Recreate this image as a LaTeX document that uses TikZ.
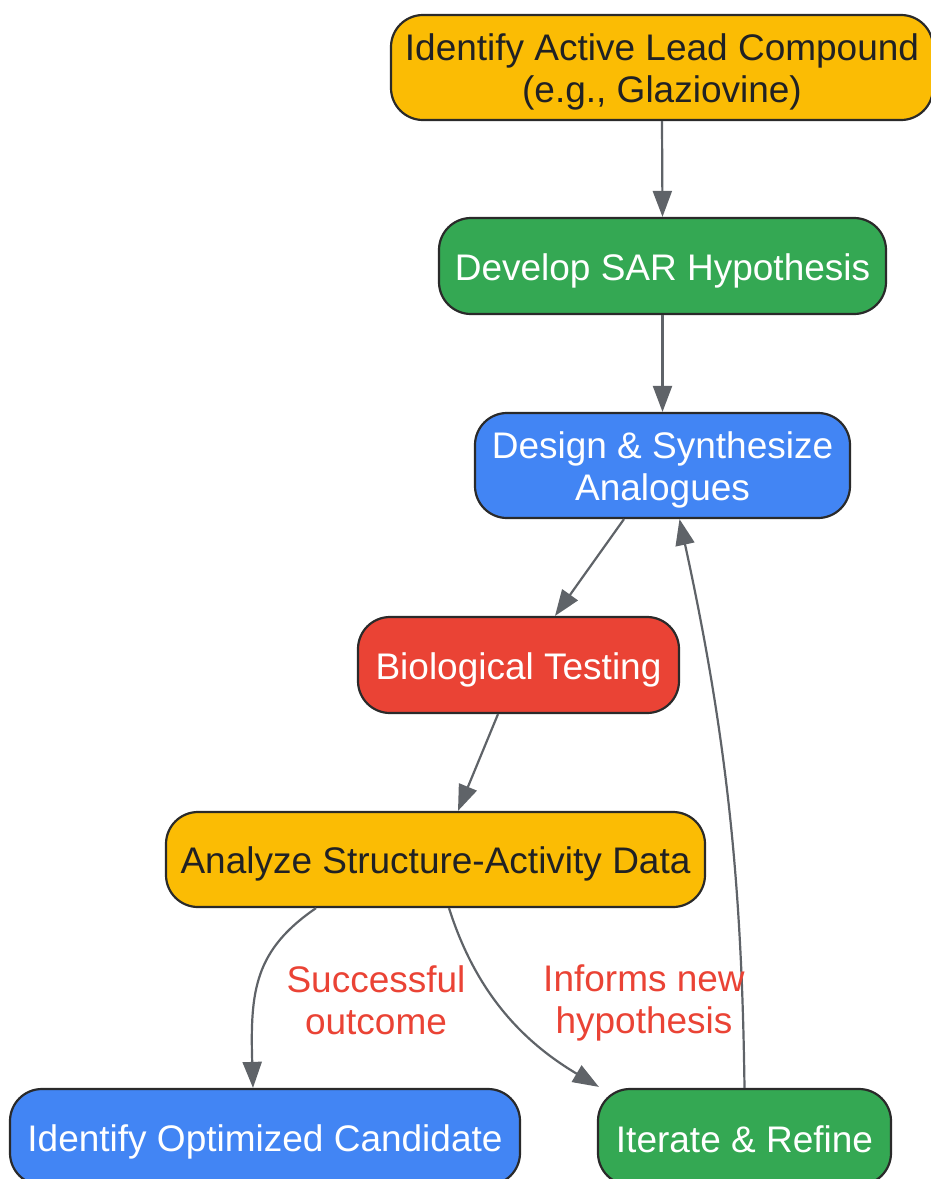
\documentclass[tikz,border=0pt]{standalone}
\usepackage{fontspec}
\setmainfont{Liberation Sans}
\usetikzlibrary{arrows.meta}
\definecolor{gyellow}{HTML}{FBBC04}
\definecolor{ggreen}{HTML}{34A853}
\definecolor{gblue}{HTML}{4285F4}
\definecolor{gred}{HTML}{EA4335}
\definecolor{dtext}{HTML}{202124}
\definecolor{edgec}{HTML}{5F6368}
\definecolor{borderc}{HTML}{2A2A2A}
\newcommand\tstrut[1][36pt]{\rule{0pt}{#1}}
\tikzset{
  box/.style={draw=borderc, line width=2.2pt, rounded corners=32pt, inner sep=0pt,
    align=center, font=\fontsize{37}{42}\selectfont},
  ybox/.style={box, fill=gyellow, text=dtext},
  gbox/.style={box, fill=ggreen, text=white},
  bbox/.style={box, fill=gblue, text=white},
  rbox/.style={box, fill=gred, text=white},
  conn/.style={draw=edgec, line width=2.2pt, -{Triangle[length=26pt,width=19pt]}},
  elabel/.style={text=gred, align=center, font=\fontsize{37}{42}\selectfont}
}
\begin{document}
\begin{tikzpicture}[x=1pt,y=-1pt]
\useasboundingbox (0,0) rectangle (930,1179);
\node[ybox, minimum width=542pt, minimum height=105pt] (n1) at (662,67.5) {\tstrut Identify Active Lead Compound\\(e.g., Glaziovine)};
\node[gbox, minimum width=447pt, minimum height=96pt] (n2) at (662.5,266) {\tstrut Develop SAR Hypothesis};
\node[bbox, minimum width=375pt, minimum height=105pt] (n3) at (662.5,465.5) {\tstrut Design \& Synthesize\\Analogues};
\node[rbox, minimum width=321pt, minimum height=96pt] (n4) at (518.5,665) {\tstrut Biological Testing};
\node[ybox, minimum width=539pt, minimum height=95pt] (n5) at (435.5,859.5) {\tstrut Analyze Structure-Activity Data};
\node[bbox, minimum width=510pt, minimum height=96pt] (n6) at (265,1137) {\tstrut Identify Optimized Candidate};
\node[gbox, minimum width=293pt, minimum height=96pt] (n7) at (744.5,1137) {\tstrut[32pt]Iterate \& Refine};

\draw[conn] (n1.south) -- (n2.north);
\draw[conn] (n2.south) -- (n3.north);
\draw[conn] ([xshift=-38.5pt]n3.south) -- ([xshift=36.5pt]n4.north);
\draw[conn] ([xshift=-20.5pt]n4.south) -- ([xshift=22.5pt]n5.north);
\draw[conn] ([xshift=-119.5pt]n5.south) .. controls (255,950) and (250,990) .. ([xshift=-12pt]n6.north);
\draw[conn] ([xshift=13.5pt]n5.south) .. controls (475,990) and (520,1040) .. ([xshift=2pt,yshift=1pt]n7.north west);
\draw[conn] (n7.north) .. controls (742,900) and (730,750) .. ([xshift=17pt]n3.south);

\node[elabel] (l1) at (376,1000) {Successful\\outcome};
\node[elabel] (l2) at (644,1003) {Informs new\\hypothesis};
\end{tikzpicture}
\end{document}
